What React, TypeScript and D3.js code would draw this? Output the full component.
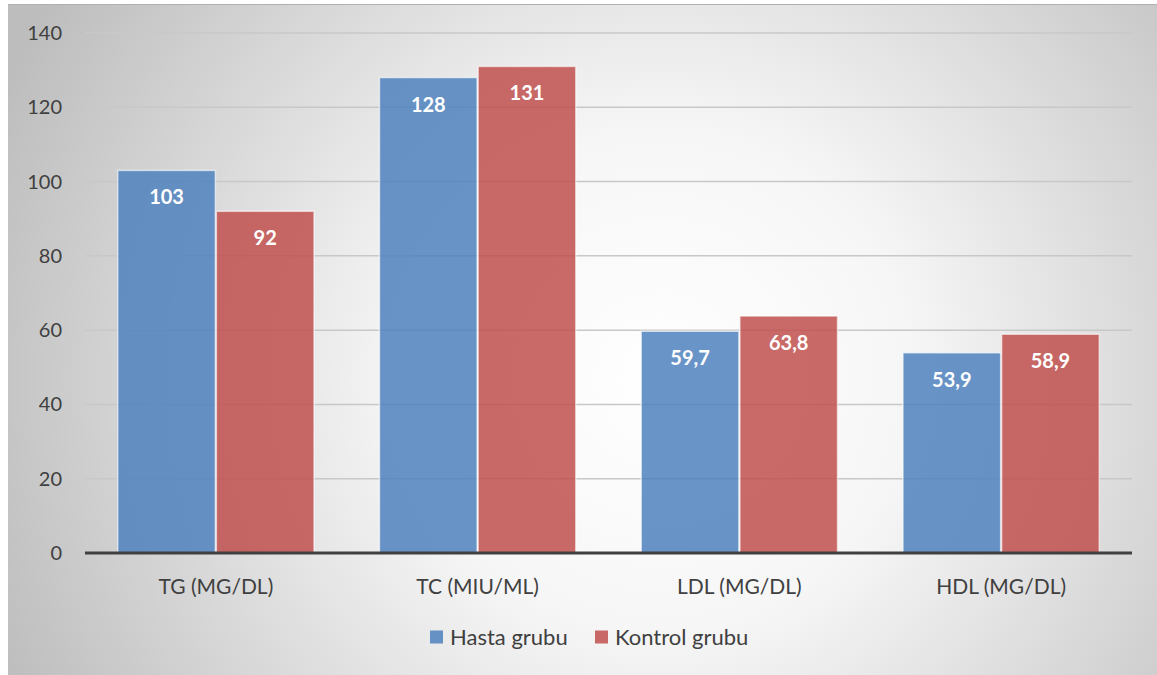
import React, { useEffect, useRef } from 'react';
import * as d3 from 'd3';

const categories = ['TG (MG/DL)', 'TC (MIU/ML)', 'LDL (MG/DL)', 'HDL (MG/DL)'];
const seriesNames = ['Hasta grubu', 'Kontrol grubu'];
const hastaValues = [103, 128, 59.7, 53.9];
const kontrolValues = [92, 131, 63.8, 58.9];
const yTicks = [0, 20, 40, 60, 80, 100, 120, 140];
const colors = ['#4f81bd', '#c0504d'];

const W = 1157;
const H = 675;
const FONT = 'Lato, "Open Sans", sans-serif';

const App = () => {
  const svgRef = useRef<SVGSVGElement | null>(null);

  useEffect(() => {
    if (!svgRef.current) return;
    const svg = d3.select(svgRef.current);
    svg.selectAll('*').remove();

    // Background gradient
    const defs = svg.append('defs');
    const bg = defs.append('radialGradient')
      .attr('id', 'bg-grad')
      .attr('gradientUnits', 'userSpaceOnUse')
      .attr('cx', 660).attr('cy', 380).attr('r', 720);
    bg.append('stop').attr('offset', '0%').attr('stop-color', '#ffffff');
    bg.append('stop').attr('offset', '35%').attr('stop-color', '#f6f6f6');
    bg.append('stop').attr('offset', '100%').attr('stop-color', '#bdbdbd');

    svg.append('rect')
      .attr('x', 8).attr('y', 4)
      .attr('width', W - 8).attr('height', H - 4)
      .attr('fill', 'url(#bg-grad)');
    svg.append('line')
      .attr('x1', 8).attr('x2', W)
      .attr('y1', 4.5).attr('y2', 4.5)
      .attr('stroke', '#b0b0b0').attr('stroke-width', 1);

    const margin = { top: 33, left: 85, right: W - 1132, bottom: H - 553 };
    const width = W - margin.left - margin.right;
    const height = H - margin.top - margin.bottom;

    const g = svg.append('g')
      .attr('transform', `translate(${margin.left},${margin.top})`);

    const x0 = d3.scaleBand()
      .domain(categories)
      .range([0, width])
      .paddingInner(0.25)
      .paddingOuter(0.125);

    const x1 = d3.scaleBand()
      .domain(seriesNames)
      .range([0, x0.bandwidth()])
      .paddingInner(0.01);

    const y = d3.scaleLinear().domain([0, 140]).range([height, 0]);

    // Grid
    g.selectAll('.grid')
      .data(yTicks.filter(d => d > 0))
      .enter().append('line')
      .attr('x1', 0).attr('x2', width)
      .attr('y1', d => y(d)).attr('y2', d => y(d))
      .attr('stroke', '#c8c8c8')
      .attr('stroke-width', 1.5);

    // Y labels
    g.selectAll('.ylab')
      .data(yTicks)
      .enter().append('text')
      .attr('x', -23)
      .attr('y', d => y(d))
      .attr('dy', '0.35em')
      .attr('text-anchor', 'end')
      .style('font-family', FONT)
      .style('font-size', '20px')
      .style('fill', '#404040')
      .text(d => d);

    const rows = categories.map((c, i) => ({
      cat: c,
      vals: [hastaValues[i], kontrolValues[i]],
    }));

    const groups = g.selectAll('.grp')
      .data(rows)
      .enter().append('g')
      .attr('transform', d => `translate(${x0(d.cat)},0)`);

    groups.selectAll('rect')
      .data(d => d.vals.map((v, j) => ({ name: seriesNames[j], v, j })))
      .enter().append('rect')
      .attr('x', d => x1(d.name)!)
      .attr('y', d => y(d.v))
      .attr('width', x1.bandwidth())
      .attr('height', d => height - y(d.v))
      .attr('fill', d => colors[d.j])
      .attr('fill-opacity', 0.85)
      .attr('stroke', '#ffffff')
      .attr('stroke-opacity', 0.6)
      .attr('stroke-width', 1.5);

    groups.selectAll('.val')
      .data(d => d.vals.map((v, j) => ({ name: seriesNames[j], v, j })))
      .enter().append('text')
      .attr('x', d => x1(d.name)! + x1.bandwidth() / 2)
      .attr('y', d => y(d.v) + 27)
      .attr('dy', '0.35em')
      .attr('text-anchor', 'middle')
      .style('font-family', FONT)
      .style('font-size', '20px')
      .style('font-weight', '700')
      .style('fill', '#ffffff')
      .text(d => String(d.v).replace('.', ','));

    // Baseline
    g.append('line')
      .attr('x1', 0).attr('x2', width)
      .attr('y1', height).attr('y2', height)
      .attr('stroke', '#404040')
      .attr('stroke-width', 3);

    // Category labels
    g.selectAll('.xlab')
      .data(categories)
      .enter().append('text')
      .attr('x', d => x0(d)! + x0.bandwidth() / 2)
      .attr('y', height + 34)
      .attr('dy', '0.35em')
      .attr('text-anchor', 'middle')
      .style('font-family', FONT)
      .style('font-size', '21px')
      .style('fill', '#404040')
      .text(d => d);

    // Legend
    const legend = svg.append('g').attr('transform', 'translate(430, 637)');
    const offsets = [0, 165];
    seriesNames.forEach((name, i) => {
      legend.append('rect')
        .attr('x', offsets[i]).attr('y', -6.5)
        .attr('width', 13).attr('height', 13)
        .attr('fill', colors[i])
        .attr('fill-opacity', 0.85);
      legend.append('text')
        .attr('x', offsets[i] + 20)
        .attr('y', 0)
        .attr('dy', '0.35em')
        .style('font-family', FONT)
        .style('font-size', '22px')
        .style('fill', '#404040')
        .text(name);
    });
  }, []);

  return (
    <svg
      ref={svgRef}
      width={W}
      height={H}
      style={{ position: 'absolute', left: 0, top: 0 }}
    />
  );
};

export default App;
